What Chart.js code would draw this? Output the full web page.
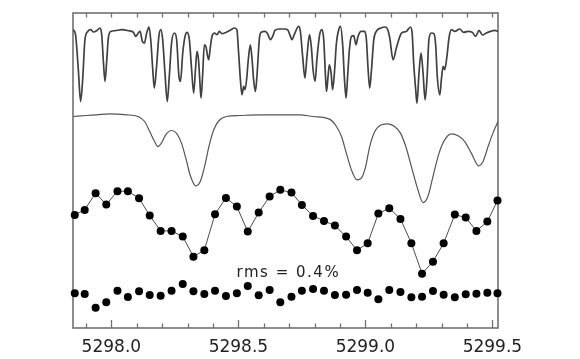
<!DOCTYPE html>
<html>
<head>
<meta charset="utf-8">
<script src="https://cdn.jsdelivr.net/npm/chart.js@4.4.1/dist/chart.umd.min.js"></script>
<style>
  html, body { margin: 0; padding: 0; background: #ffffff; }
  #c { display: block; }
</style>
</head>
<body>
<canvas id="c" width="580" height="359"></canvas>
<script>
// ---------------- data ----------------
// Top: high-resolution spectrum (offset flux)
const topWave = [
  5297.850,5297.859,5297.870,5297.879,5297.887,5297.896,5297.907,5297.920,5297.929,5297.942,
  5297.955,5297.962,5297.969,5297.975,5297.982,5297.988,5297.998,5298.014,5298.041,5298.067,
  5298.087,5298.096,5298.106,5298.113,5298.122,5298.130,5298.139,5298.148,5298.155,5298.163,
  5298.169,5298.178,5298.187,5298.195,5298.202,5298.211,5298.220,5298.228,5298.237,5298.248,
  5298.257,5298.266,5298.272,5298.281,5298.290,5298.298,5298.307,5298.316,5298.324,5298.331,
  5298.337,5298.343,5298.348,5298.353,5298.359,5298.366,5298.372,5298.383,5298.390,5298.396,
  5298.406,5298.416,5298.425,5298.435,5298.451,5298.471,5298.484,5298.494,5298.501,5298.508,
  5298.514,5298.521,5298.526,5298.533,5298.539,5298.547,5298.554,5298.560,5298.567,5298.573,
  5298.583,5298.589,5298.605,5298.615,5298.626,5298.635,5298.644,5298.661,5298.681,5298.694,
  5298.705,5298.711,5298.720,5298.737,5298.744,5298.753,5298.762,5298.770,5298.780,5298.787,
  5298.794,5298.802,5298.809,5298.820,5298.829,5298.836,5298.843,5298.847,5298.853,5298.858,
  5298.865,5298.871,5298.878,5298.886,5298.895,5298.902,5298.911,5298.917,5298.924,5298.930,
  5298.937,5298.945,5298.954,5298.963,5298.971,5298.983,5298.997,5299.004,5299.010,5299.017,
  5299.024,5299.033,5299.043,5299.061,5299.079,5299.088,5299.096,5299.109,5299.122,5299.142,
  5299.161,5299.177,5299.184,5299.190,5299.198,5299.203,5299.211,5299.219,5299.227,5299.235,
  5299.243,5299.250,5299.260,5299.270,5299.277,5299.283,5299.293,5299.299,5299.306,5299.312,
  5299.321,5299.329,5299.339,5299.352,5299.371,5299.387,5299.404,5299.421,5299.434,5299.447,
  5299.461,5299.476,5299.492,5299.509,5299.522
];
const topFlux = [
  2.980,2.930,2.580,2.263,2.480,2.880,2.963,2.980,2.957,2.970,
  2.997,2.930,2.647,2.463,2.680,2.897,2.963,2.970,2.980,2.970,
  2.953,2.913,2.947,2.963,2.863,2.847,2.947,3.007,2.880,2.580,
  2.397,2.613,2.913,2.980,2.880,2.547,2.263,2.513,2.847,2.947,
  2.880,2.513,2.463,2.747,2.913,2.953,2.880,2.580,2.347,2.580,
  2.763,2.680,2.480,2.297,2.513,2.830,2.813,2.680,2.813,2.913,
  2.947,2.930,2.963,2.940,2.953,2.980,2.997,2.980,2.747,2.480,
  2.330,2.413,2.380,2.497,2.680,2.830,2.680,2.480,2.363,2.513,
  2.897,2.953,2.963,2.940,2.880,2.913,2.973,2.987,2.987,2.980,
  2.913,2.880,2.930,3.013,2.963,2.713,2.497,2.713,2.930,2.813,
  2.580,2.463,2.680,2.930,2.980,2.880,2.513,2.363,2.513,2.630,
  2.547,2.380,2.547,2.847,2.980,3.013,2.813,2.513,2.297,2.513,
  2.780,2.913,2.920,2.830,2.913,2.963,2.963,2.880,2.613,2.397,
  2.580,2.880,2.963,2.997,3.007,2.980,2.897,2.680,2.797,2.947,
  2.963,3.007,2.947,2.647,2.380,2.247,2.547,2.747,2.547,2.280,
  2.513,2.880,2.947,2.940,2.813,2.513,2.330,2.480,2.613,2.580,
  2.713,2.897,2.980,2.963,2.987,2.953,2.963,2.953,2.913,2.973,
  2.927,2.947,2.963,2.973,2.963
];

// Middle: smoothed (convolved) spectrum
const midWave = [
  5297.850,5297.902,5297.941,5297.993,5298.059,5298.105,5298.131,5298.151,5298.170,5298.183,
  5298.197,5298.214,5298.236,5298.256,5298.276,5298.293,5298.312,5298.332,5298.350,5298.367,
  5298.384,5298.403,5298.424,5298.453,5298.505,5298.584,5298.663,5298.741,5298.794,5298.859,
  5298.886,5298.906,5298.925,5298.945,5298.967,5298.984,5299.001,5299.017,5299.037,5299.063,
  5299.089,5299.115,5299.138,5299.159,5299.181,5299.203,5299.227,5299.246,5299.266,5299.290,
  5299.312,5299.339,5299.365,5299.391,5299.417,5299.446,5299.463,5299.483,5299.502,5299.522
];
const midFlux = [
  2.113,2.123,2.130,2.140,2.130,2.113,2.063,1.963,1.863,1.813,
  1.847,1.930,1.973,1.947,1.847,1.697,1.513,1.420,1.463,1.613,
  1.813,1.980,2.073,2.113,2.123,2.130,2.130,2.130,2.113,2.087,
  2.013,1.913,1.747,1.580,1.480,1.497,1.613,1.813,1.963,2.030,
  2.040,2.013,1.947,1.813,1.613,1.413,1.253,1.313,1.513,1.747,
  1.880,1.940,1.920,1.863,1.747,1.620,1.663,1.813,1.947,2.063
];

// Observed points and residuals (shared wavelength grid)
const obsWave = [
  5297.856,5297.895,5297.938,5297.980,5298.024,5298.065,5298.109,5298.151,5298.194,5298.237,
  5298.281,5298.323,5298.366,5298.408,5298.451,5298.494,5298.537,5298.580,5298.623,5298.665,
  5298.709,5298.750,5298.794,5298.837,5298.880,5298.924,5298.967,5299.009,5299.051,5299.094,
  5299.138,5299.181,5299.223,5299.266,5299.308,5299.352,5299.395,5299.437,5299.480,5299.520
];
const obsFlux = [
  1.130,1.180,1.347,1.233,1.367,1.367,1.297,1.123,0.970,0.970,
  0.913,0.713,0.777,1.137,1.300,1.213,0.963,1.153,1.313,1.380,
  1.353,1.230,1.120,1.070,1.023,0.913,0.777,0.847,1.143,1.197,
  1.090,0.847,0.543,0.663,0.847,1.133,1.103,0.970,1.063,1.273
];
const residFlux = [
  0.347,0.340,0.203,0.257,0.373,0.310,0.367,0.330,0.323,0.373,
  0.440,0.367,0.340,0.373,0.320,0.347,0.420,0.327,0.380,0.257,
  0.313,0.373,0.390,0.373,0.330,0.333,0.380,0.353,0.287,0.380,
  0.360,0.307,0.313,0.370,0.333,0.307,0.337,0.343,0.353,0.347
];

// Axis ticks
const labelTicks = [5298.0, 5298.5, 5299.0, 5299.5];
const minorTicks = [5297.9, 5298.0, 5298.1, 5298.2, 5298.3, 5298.4, 5298.5, 5298.6, 5298.7,
                    5298.8, 5298.9, 5299.0, 5299.1, 5299.2, 5299.3, 5299.4, 5299.5];
const xRange = [5297.849, 5299.522];
const yRange = [0, 3.147];

// Annotation
const rmsText = "rms = 0.4%";
const rmsPos = { x: 5298.493, y: 0.507 };

// ---------------- chart ----------------
const pts = (xs, ys) => xs.map((x, i) => ({ x: x, y: ys[i] }));

const framePlugin = {
  id: 'frameTicks',
  beforeDatasetsDraw(chart) {
    const { ctx, chartArea: a, scales: { x } } = chart;
    ctx.save();
    ctx.strokeStyle = '#707070';
    ctx.lineWidth = 1.6;
    ctx.strokeRect(a.left, a.top, a.right - a.left, a.bottom - a.top);
    ctx.lineWidth = 1.3;
    ctx.beginPath();
    minorTicks.forEach(v => {
      const px = Math.round(x.getPixelForValue(v)) + 0.5;
      const major = labelTicks.some(m => Math.abs(m - v) < 1e-6);
      ctx.moveTo(px, a.top);
      ctx.lineTo(px, a.top + 4.5);
      ctx.moveTo(px, a.bottom);
      ctx.lineTo(px, a.bottom - (major ? 8 : 4.5));
    });
    ctx.stroke();
    ctx.restore();
  },
  afterDatasetsDraw(chart) {
    const { ctx, scales: { x, y } } = chart;
    ctx.save();
    ctx.font = '15px "DejaVu Sans"';
    ctx.fillStyle = '#222222';
    try { ctx.letterSpacing = '1.5px'; } catch (e) {}
    ctx.textAlign = 'left';
    ctx.textBaseline = 'alphabetic';
    ctx.fillText(rmsText, x.getPixelForValue(rmsPos.x), y.getPixelForValue(rmsPos.y));
    ctx.restore();
  }
};

new Chart(document.getElementById('c'), {
  type: 'scatter',
  data: {
    datasets: [
      {
        data: pts(topWave, topFlux),
        showLine: true,
        borderColor: '#404040',
        borderWidth: 1.7,
        pointRadius: 0,
        cubicInterpolationMode: 'monotone'
      },
      {
        data: pts(midWave, midFlux),
        showLine: true,
        borderColor: '#555555',
        borderWidth: 1.2,
        pointRadius: 0,
        cubicInterpolationMode: 'monotone'
      },
      {
        data: pts(obsWave, obsFlux),
        showLine: true,
        borderColor: '#4a4a4a',
        borderWidth: 1,
        pointRadius: 4,
        pointBackgroundColor: '#000000',
        pointBorderWidth: 0,
        tension: 0,
        clip: 6
      },
      {
        data: pts(obsWave, residFlux),
        showLine: false,
        pointRadius: 4,
        pointBackgroundColor: '#000000',
        pointBorderWidth: 0,
        clip: 6
      }
    ]
  },
  options: {
    responsive: false,
    animation: false,
    devicePixelRatio: 1,
    layout: { padding: { left: 73, right: 82, top: 13, bottom: 0 } },
    plugins: { legend: { display: false }, tooltip: { enabled: false } },
    scales: {
      x: {
        type: 'linear',
        min: xRange[0],
        max: xRange[1],
        grid: { display: false, drawTicks: false },
        border: { display: false },
        afterBuildTicks: (scale) => { scale.ticks = labelTicks.map(v => ({ value: v })); },
        afterFit: (scale) => { scale.height = 31; },
        ticks: {
          autoSkip: false,
          maxRotation: 0,
          padding: 9,
          color: '#222222',
          font: { family: '"DejaVu Sans"', size: 17 },
          callback: (v) => Number(v).toFixed(1)
        }
      },
      y: {
        type: 'linear',
        display: false,
        min: yRange[0],
        max: yRange[1]
      }
    }
  },
  plugins: [framePlugin]
});
</script>
</body>
</html>
